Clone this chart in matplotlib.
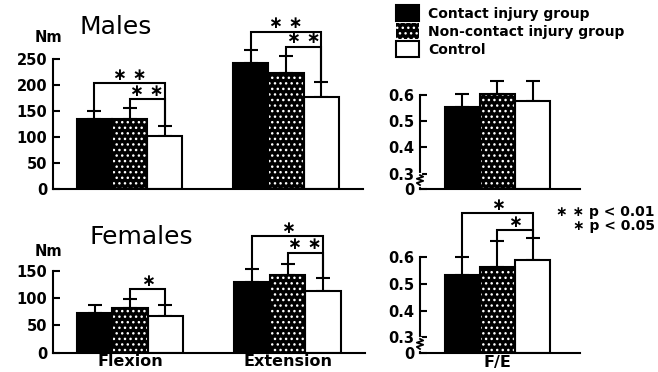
import numpy as np
import matplotlib
matplotlib.use("Agg")
import matplotlib.pyplot as plt
from matplotlib.transforms import blended_transform_factory

# Peak torque (Nm) and flexion/extension ratio, mean and SD per group
groups = ["Contact injury group", "Non-contact injury group", "Control"]
tasks = ["Flexion", "Extension"]

male_flex_mean = [136, 135, 103]
male_flex_sd = [15, 21, 19]
male_ext_mean = [242, 223, 177]
male_ext_sd = [26, 33, 30]

female_flex_mean = [72, 81, 68]
female_flex_sd = [16, 17, 19]
female_ext_mean = [130, 142, 113]
female_ext_sd = [23, 20, 23]

male_fe_mean = [0.553, 0.604, 0.575]
male_fe_sd = [0.050, 0.048, 0.077]
female_fe_mean = [0.534, 0.563, 0.590]
female_fe_sd = [0.066, 0.097, 0.081]

# significance brackets: (task, group i, group j, bracket height, stars)
male_brackets = [(0, 0, 2, 204, "∗ ∗"), (0, 1, 2, 173, "∗ ∗"),
                 (1, 0, 2, 303, "∗ ∗"), (1, 1, 2, 274, "∗ ∗")]
female_brackets = [(0, 1, 2, 116, "∗"),
                   (1, 0, 2, 213, "∗"), (1, 1, 2, 183, "∗ ∗")]
male_fe_brackets = []
female_fe_brackets = [(0, 0, 2, 0.765, "∗"), (0, 1, 2, 0.70, "∗")]

plt.rcParams.update({"font.family": "DejaVu Sans", "font.weight": "bold",
                     "hatch.linewidth": 1.0})

W, H = 658, 372
fig = plt.figure(figsize=(W / 100, H / 100), dpi=100)

BAR_W = 0.225
OFFSETS = np.array([-1, 0, 1]) * BAR_W
LW = 1.5


def add_axes_px(left, right, bottom, top):
    return fig.add_axes([left / W, 1 - bottom / H, (right - left) / W, (bottom - top) / H])


def draw_bars(ax, centers, means, sds):
    handles = []
    for k in range(3):
        xs = np.asarray(centers, float) + OFFSETS[k]
        ys = [m[k] for m in means]
        es = [s[k] for s in sds]
        ax.errorbar(xs, ys, yerr=[np.zeros(len(es)), es], fmt="none", ecolor="black",
                    elinewidth=LW, capsize=5, capthick=LW, zorder=1)
        if k == 1:
            h = ax.bar(xs, ys, BAR_W, color="black", edgecolor="white", hatch="...",
                       linewidth=0, zorder=2)
            ax.bar(xs, ys, BAR_W, fill=False, edgecolor="black", linewidth=LW, zorder=3)
        else:
            face = "black" if k == 0 else "white"
            h = ax.bar(xs, ys, BAR_W, color=face, edgecolor="black", linewidth=LW, zorder=2)
        handles.append(h)
    return handles


def draw_brackets(ax, centers, means, sds, brackets):
    for t, i, j, level, stars in brackets:
        xi = centers[t] + OFFSETS[i]
        xj = centers[t] + OFFSETS[j]
        yi = means[t][i] + sds[t][i]
        yj = means[t][j] + sds[t][j]
        ax.plot([xi, xi, xj, xj], [yi, level, level, yj], color="black", lw=LW,
                clip_on=False, solid_joinstyle="miter")
        ax.annotate(stars, ((xi + xj) / 2, level), xytext=(0, 6),
                    textcoords="offset points", ha="center", va="center",
                    fontsize=12, annotation_clip=False)


def style(ax, ylim, spine_top, xlim):
    ax.set_xlim(*xlim)
    ax.set_ylim(*ylim)
    for side in ("top", "right"):
        ax.spines[side].set_visible(False)
    for side in ("left", "bottom"):
        ax.spines[side].set_linewidth(LW)
    ax.spines["left"].set_bounds(0, spine_top)
    ax.tick_params(axis="y", direction="in", length=5, width=LW, labelsize=10.5, pad=4)
    ax.tick_params(axis="x", length=0, labelsize=11.5, pad=1)


GAP = 0.06


def fwd(v):
    v = np.asarray(v, float)
    return np.where(v < 0.3, v * GAP / 0.3, v - 0.3 + GAP)


def inv(u):
    u = np.asarray(u, float)
    return np.where(u < GAP, u * 0.3 / GAP, u + 0.3 - GAP)


def broken_ratio_axis(ax):
    ax.set_yscale("function", functions=(fwd, inv))
    ax.set_yticks([0, 0.3, 0.4, 0.5, 0.6])
    ax.set_yticklabels(["0", "0.3", "0.4", "0.5", "0.6"])
    trans = blended_transform_factory(ax.transAxes, ax.transData)
    ax.plot([0, 0], [0.08, 0.27], transform=trans, color="white", lw=3,
            clip_on=False, zorder=5)
    ax.plot([0.0, -0.02, 0.02, -0.02, 0.02, 0.0],
            [0.08, 0.12, 0.16, 0.20, 0.24, 0.27], transform=trans,
            color="black", lw=1.3, clip_on=False, zorder=6)


centers = [0, 1]
torque_xlim = (-0.489, 1.492)
ratio_xlim = (-0.495, 0.527)

# males, torque
ax_m = add_axes_px(53, 363, 189.3, 22.9)
handles = draw_bars(ax_m, centers, [male_flex_mean, male_ext_mean], [male_flex_sd, male_ext_sd])
draw_brackets(ax_m, centers, [male_flex_mean, male_ext_mean], [male_flex_sd, male_ext_sd],
              male_brackets)
style(ax_m, (0, 320), 250, torque_xlim)
ax_m.set_yticks([0, 50, 100, 150, 200, 250])
ax_m.set_xticks([])

# females, torque
ax_f = add_axes_px(53, 365, 352.7, 227.1)
draw_bars(ax_f, centers, [female_flex_mean, female_ext_mean], [female_flex_sd, female_ext_sd])
draw_brackets(ax_f, centers, [female_flex_mean, female_ext_mean],
              [female_flex_sd, female_ext_sd], female_brackets)
style(ax_f, (0, 230), 150, torque_xlim)
ax_f.set_yticks([0, 50, 100, 150])
ax_f.set_xticks(centers)
ax_f.set_xticklabels(tasks)

# males, F/E ratio
ax_mr = add_axes_px(420, 580, 189.3, 68.3)
broken_ratio_axis(ax_mr)
draw_bars(ax_mr, [0], [male_fe_mean], [male_fe_sd])
draw_brackets(ax_mr, [0], [male_fe_mean], [male_fe_sd], male_fe_brackets)
style(ax_mr, (0, 0.7), 0.6, ratio_xlim)
ax_mr.set_xticks([])

# females, F/E ratio
ax_fr = add_axes_px(420, 580, 353.3, 203.8)
broken_ratio_axis(ax_fr)
draw_bars(ax_fr, [0], [female_fe_mean], [female_fe_sd])
draw_brackets(ax_fr, [0], [female_fe_mean], [female_fe_sd], female_fe_brackets)
style(ax_fr, (0, 0.8), 0.6, ratio_xlim)
ax_fr.set_xticks([0])
ax_fr.set_xticklabels(["F/E"])

fig.text(80 / W, 1 - 34 / H, "Males", fontsize=18, fontweight="normal", va="baseline")
fig.text(90 / W, 1 - 244 / H, "Females", fontsize=18, fontweight="normal", va="baseline")
fig.text(48 / W, 1 - 38 / H, "Nm", fontsize=10.5, ha="center", va="center")
fig.text(48 / W, 1 - 252 / H, "Nm", fontsize=10.5, ha="center", va="center")

fig.text(655 / W, 1 - 212 / H, "∗ ∗ p < 0.01", fontsize=10, ha="right", va="center")
fig.text(655 / W, 1 - 226 / H, "∗ p < 0.05", fontsize=10, ha="right", va="center")

fig.legend(handles, groups, loc="upper left", bbox_to_anchor=(396 / W, 1 - 5 / H),
           frameon=False, fontsize=10, handlelength=1.65, handleheight=1.45,
           labelspacing=0.1, handletextpad=0.65, borderpad=0, borderaxespad=0)

fig.savefig("out.png", dpi=100)
